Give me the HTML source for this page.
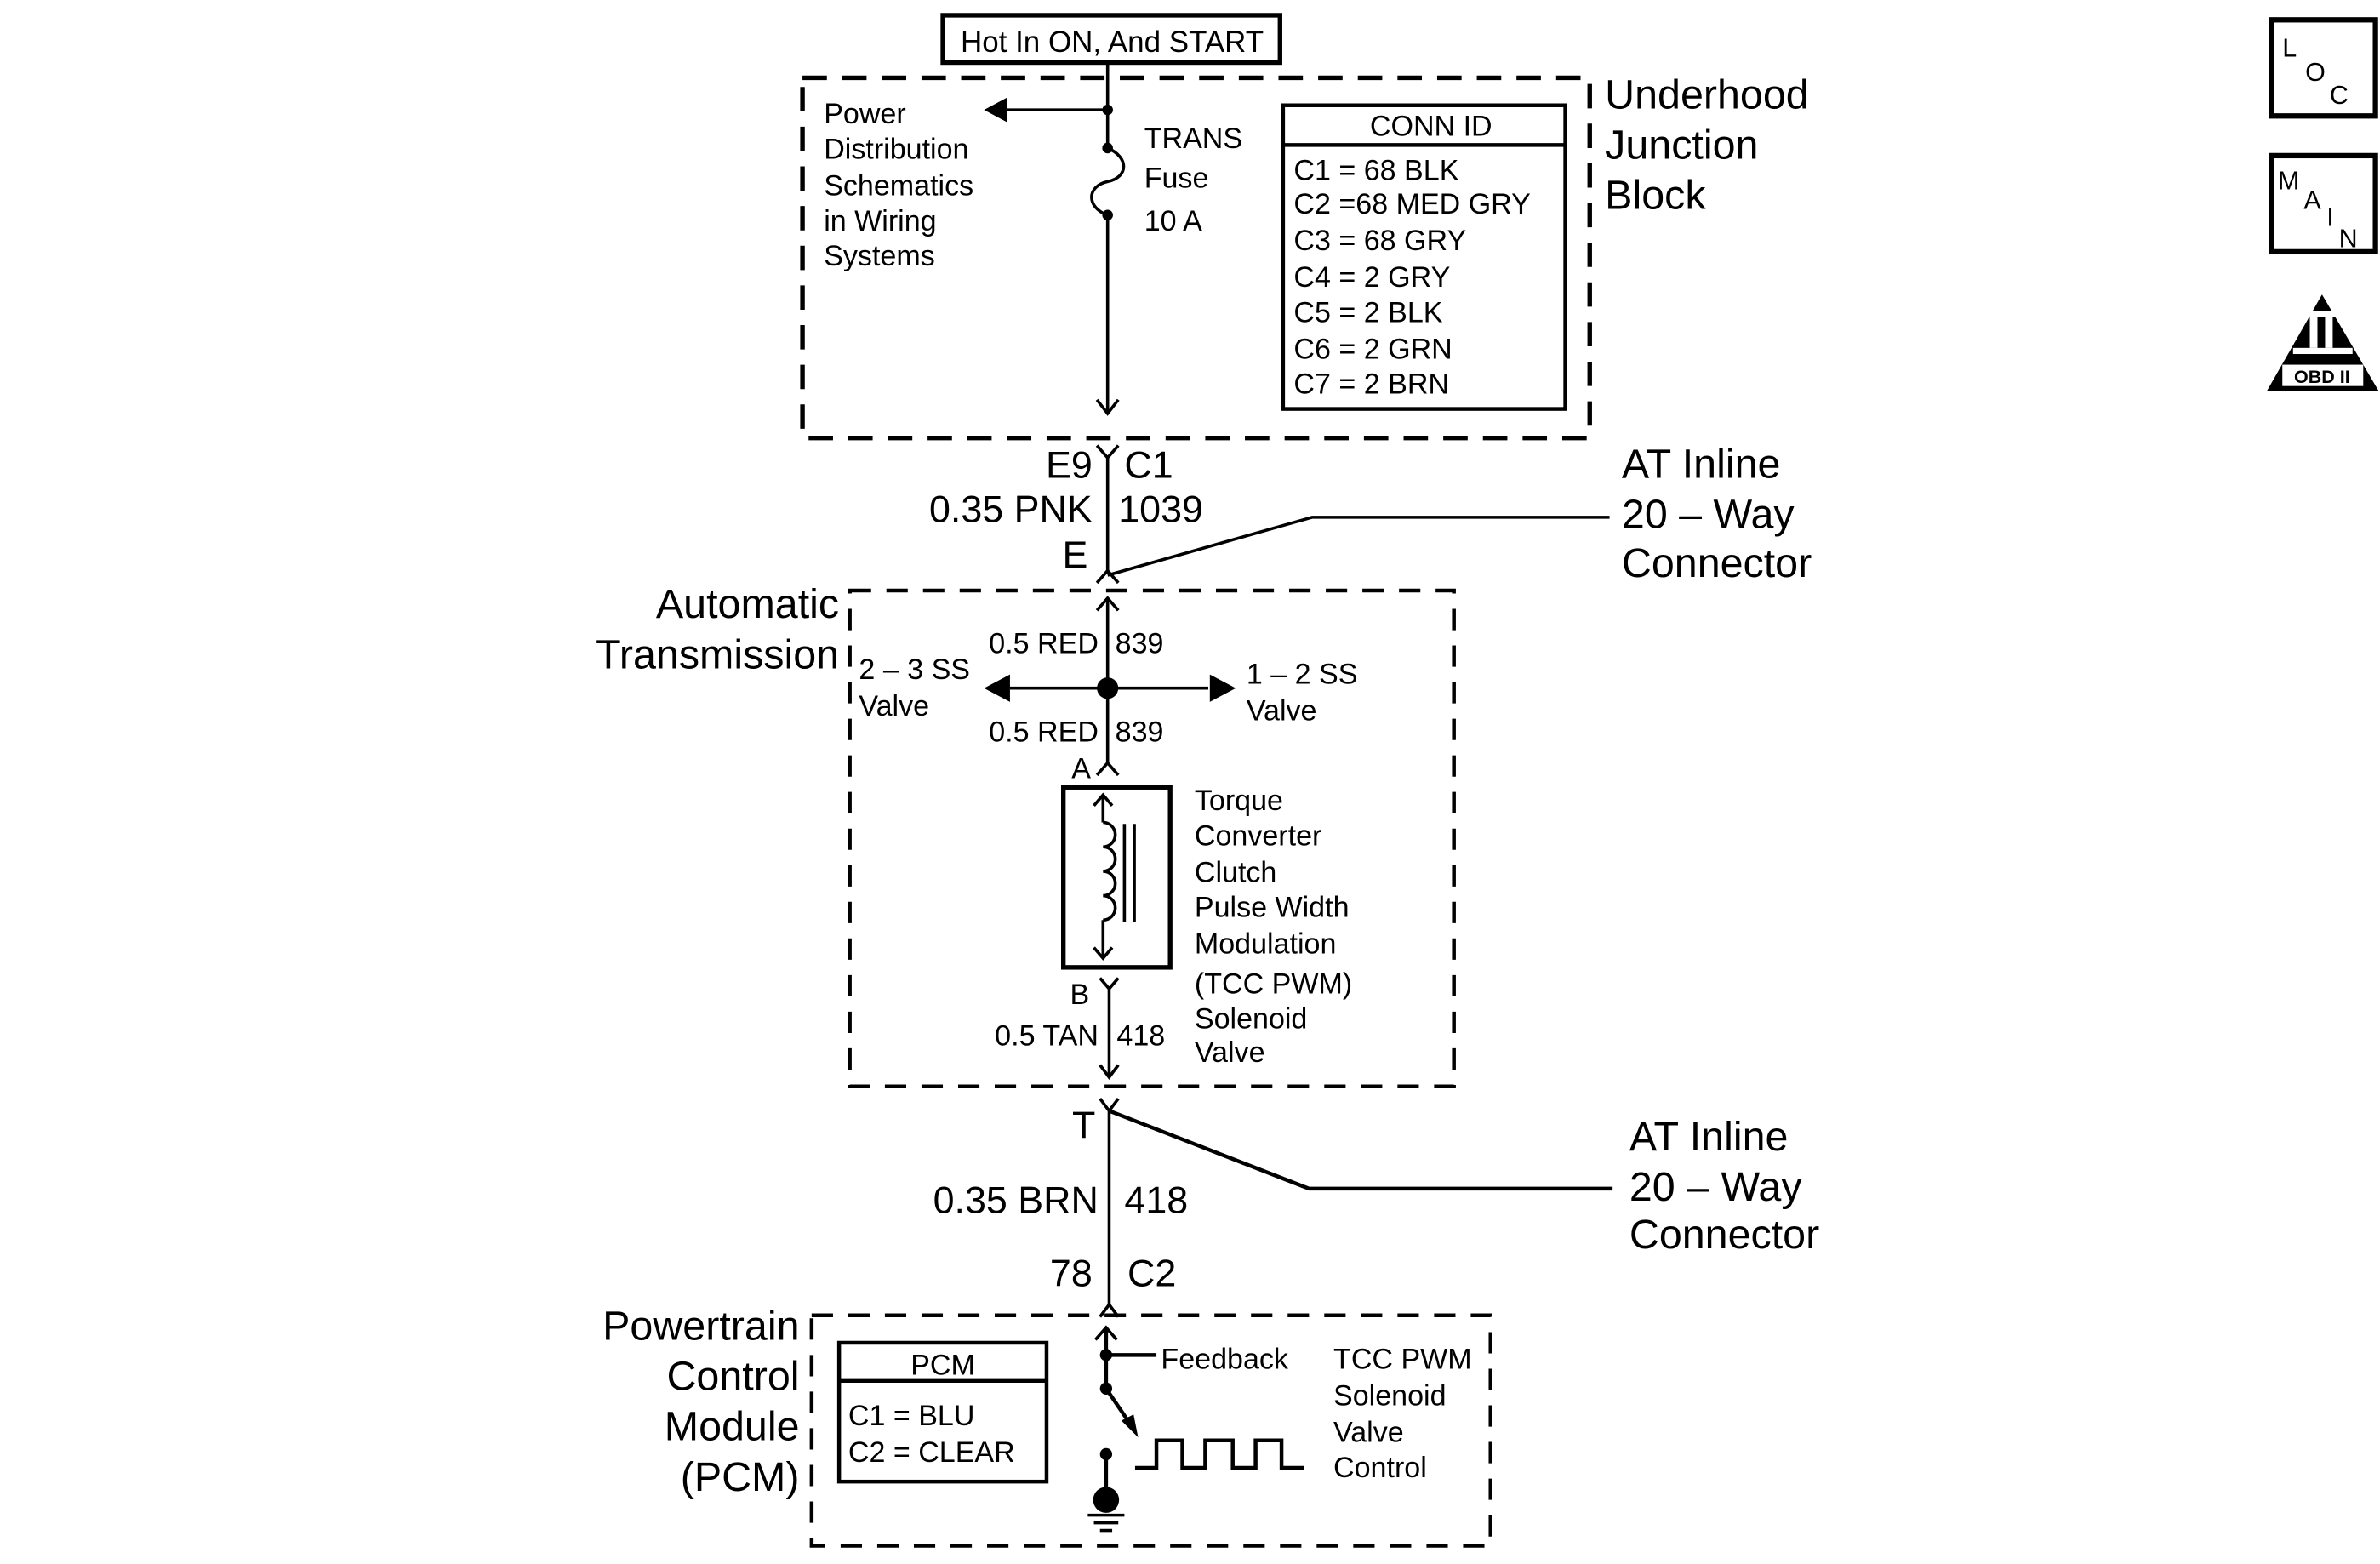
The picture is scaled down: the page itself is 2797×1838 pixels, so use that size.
<!DOCTYPE html>
<html><head><meta charset="utf-8"><style>
html,body{margin:0;padding:0;background:#fff}
svg{display:block}
text{font-family:"Liberation Sans",sans-serif;fill:#000}
</style></head><body>
<svg width="2797" height="1838" viewBox="0 0 1560 1025" preserveAspectRatio="none" xmlns="http://www.w3.org/2000/svg">
<g fill="none" stroke="#000" stroke-width="2">
<rect x="618" y="10" width="221" height="31" stroke-width="3"/>
<rect x="526" y="51" width="516" height="236" stroke-width="3" stroke-dasharray="16,10"/>
<rect x="557" y="387" width="396" height="325" stroke-width="2.5" stroke-dasharray="14,10"/>
<rect x="532" y="862" width="445" height="151" stroke-width="2.5" stroke-dasharray="14,10"/>
<rect x="841" y="69" width="185" height="199" stroke-width="2.5"/>
<line x1="841" y1="95" x2="1026" y2="95" stroke-width="2.5"/>
<line x1="726" y1="42" x2="726" y2="97"/>
<path d="M726 97 C740 103,740 116,726 119 C712 122,712 136,726 141"/>
<line x1="726" y1="141" x2="726" y2="271"/>
<polyline points="719,262 726,271 733,262"/>
<line x1="726" y1="72" x2="660" y2="72"/>
<polyline points="719,292 726,300 733,292"/>
<line x1="726" y1="300" x2="726" y2="376"/>
<polyline points="719,382 726,374 733,382"/>
<polyline points="726,377 860,339 1055,339"/>
<polyline points="719,400 726,392 733,400"/>
<line x1="726" y1="392" x2="726" y2="500"/>
<polyline points="719,508 726,500 733,508"/>
<line x1="726" y1="451" x2="662" y2="451"/>
<line x1="726" y1="451" x2="792" y2="451"/>
<rect x="697" y="516" width="70" height="118" stroke-width="3"/>
<polyline points="717,528 723,521 729,528"/>
<line x1="723" y1="521" x2="723" y2="539"/>
<path d="M723 539 a8 8 0 0 1 0 16 a8 8 0 0 1 0 16 a8 8 0 0 1 0 16 a8 8 0 0 1 0 16"/>
<line x1="723" y1="603" x2="723" y2="628"/>
<polyline points="717,621 723,628 729,621"/>
<line x1="737" y1="540" x2="737" y2="604"/>
<line x1="743.5" y1="540" x2="743.5" y2="604"/>
<polyline points="721,641 727,648 733,641"/>
<line x1="727" y1="648" x2="727" y2="706"/>
<polyline points="721,698 727,706 733,698"/>
<polyline points="721,720 727,728 733,720"/>
<line x1="727" y1="728" x2="727" y2="856"/>
<polyline points="721,863 727,855 733,863"/>
<polyline points="727,728 858,779 1057,779" stroke-width="2.5"/>
<rect x="550" y="880" width="136" height="91" stroke-width="2.5"/>
<line x1="550" y1="905" x2="686" y2="905" stroke-width="2.5"/>
<polyline points="718,878 725,870 732,878"/>
<line x1="725" y1="870" x2="725" y2="910" stroke-width="2.5"/>
<line x1="725" y1="888" x2="758" y2="888" stroke-width="2.5"/>
<line x1="725" y1="910" x2="742" y2="935" stroke-width="2.5"/>
<polyline points="744,962 758,962 758,944 775,944 775,962 790,962 790,944 808,944 808,962 823,962 823,944 840,944 840,962 855,962" stroke-width="2.5"/>
<line x1="725" y1="953" x2="725" y2="980" stroke-width="2.5"/>
<line x1="713" y1="993" x2="737" y2="993"/>
<line x1="717" y1="998" x2="733" y2="998"/>
<line x1="721" y1="1003" x2="729" y2="1003"/>
<rect x="1489" y="13" width="68" height="63" stroke-width="3.5"/>
<rect x="1489" y="102" width="68" height="63" stroke-width="3.5"/>
</g>
<g fill="#000">
<circle cx="726" cy="72" r="3.5"/>
<circle cx="726" cy="97" r="3.5"/>
<circle cx="726" cy="141" r="3.5"/>
<polygon points="645,72 660,64 660,80"/>
<circle cx="726" cy="451" r="7"/>
<polygon points="645,451 662,442 662,460"/>
<polygon points="810,451 793,442 793,460"/>
<circle cx="725" cy="888" r="4"/>
<circle cx="725" cy="910" r="4"/>
<polygon points="746,942 735,931 743,927"/>
<circle cx="725" cy="953" r="4"/>
<circle cx="725" cy="983" r="8.5"/>
<polygon points="1522,193 1486,256 1559,256"/>
</g>
<rect x="1503" y="204" width="39" height="4" fill="#fff"/>
<rect x="1514" y="208" width="5" height="20" fill="#fff"/>
<rect x="1524" y="208" width="5" height="20" fill="#fff"/>
<rect x="1503" y="228" width="39" height="4" fill="#fff"/>
<rect x="1496" y="239" width="53" height="14" fill="#fff"/>
<g font-size="19">
<text x="729" y="34" text-anchor="middle" font-size="19.5">Hot In ON, And START</text>
<text x="540" y="81">Power</text><text x="540" y="104">Distribution</text><text x="540" y="128">Schematics</text><text x="540" y="151">in Wiring</text><text x="540" y="174">Systems</text>
<text x="750" y="97">TRANS</text><text x="750" y="123">Fuse</text><text x="750" y="151">10 A</text>
<text x="938" y="89" text-anchor="middle">CONN ID</text>
<text x="848" y="118">C1 = 68 BLK</text><text x="848" y="140">C2 =68 MED GRY</text><text x="848" y="164">C3 = 68 GRY</text><text x="848" y="188">C4 = 2 GRY</text><text x="848" y="211">C5 = 2 BLK</text><text x="848" y="235">C6 = 2 GRN</text><text x="848" y="258">C7 = 2 BRN</text>
<text x="720" y="428" text-anchor="end">0.5 RED</text><text x="731" y="428">839</text>
<text x="720" y="486" text-anchor="end">0.5 RED</text><text x="731" y="486">839</text>
<text x="563" y="445">2 – 3 SS</text><text x="563" y="469">Valve</text>
<text x="817" y="448">1 – 2 SS</text><text x="817" y="472">Valve</text>
<text x="715" y="510" text-anchor="end">A</text>
<text x="714" y="658" text-anchor="end">B</text>
<text x="720" y="685" text-anchor="end">0.5 TAN</text><text x="732" y="685">418</text>
<text x="783" y="531">Torque</text><text x="783" y="554">Converter</text><text x="783" y="578">Clutch</text><text x="783" y="601">Pulse Width</text><text x="783" y="625">Modulation</text><text x="783" y="651">(TCC PWM)</text><text x="783" y="674">Solenoid</text><text x="783" y="696">Valve</text>
<text x="618" y="901" text-anchor="middle">PCM</text>
<text x="556" y="934">C1 = BLU</text><text x="556" y="958">C2 = CLEAR</text>
<text x="761" y="897">Feedback</text>
<text x="874" y="897">TCC PWM</text><text x="874" y="921">Solenoid</text><text x="874" y="945">Valve</text><text x="874" y="968">Control</text>
</g>
<g font-size="27">
<text x="1052" y="71">Underhood</text><text x="1052" y="104">Junction</text><text x="1052" y="137">Block</text>
<text x="716" y="313" text-anchor="end" font-size="25">E9</text><text x="737" y="313" font-size="25">C1</text>
<text x="716" y="342" text-anchor="end" font-size="25">0.35 PNK</text><text x="733" y="342" font-size="25">1039</text>
<text x="713" y="372" text-anchor="end" font-size="25">E</text>
<text x="1063" y="313">AT Inline</text><text x="1063" y="346">20 – Way</text><text x="1063" y="378">Connector</text>
<text x="550" y="405" text-anchor="end">Automatic</text><text x="550" y="438" text-anchor="end">Transmission</text>
<text x="718" y="746" text-anchor="end" font-size="25">T</text>
<text x="720" y="795" text-anchor="end" font-size="25">0.35 BRN</text><text x="737" y="795" font-size="25">418</text>
<text x="716" y="843" text-anchor="end" font-size="25">78</text><text x="739" y="843" font-size="25">C2</text>
<text x="1068" y="754">AT Inline</text><text x="1068" y="787">20 – Way</text><text x="1068" y="818">Connector</text>
<text x="524" y="878" text-anchor="end">Powertrain</text><text x="524" y="911" text-anchor="end">Control</text><text x="524" y="944" text-anchor="end">Module</text><text x="524" y="977" text-anchor="end">(PCM)</text>
</g>
<g font-size="17">
<text x="1496" y="37">L</text><text x="1511" y="53">O</text><text x="1527" y="68">C</text>
<text x="1493" y="124">M</text><text x="1510" y="137">A</text><text x="1525" y="148">I</text><text x="1533" y="162">N</text>
<text x="1522" y="251" text-anchor="middle" font-size="12" font-weight="bold">OBD II</text>
</g>
</svg>
</body></html>
